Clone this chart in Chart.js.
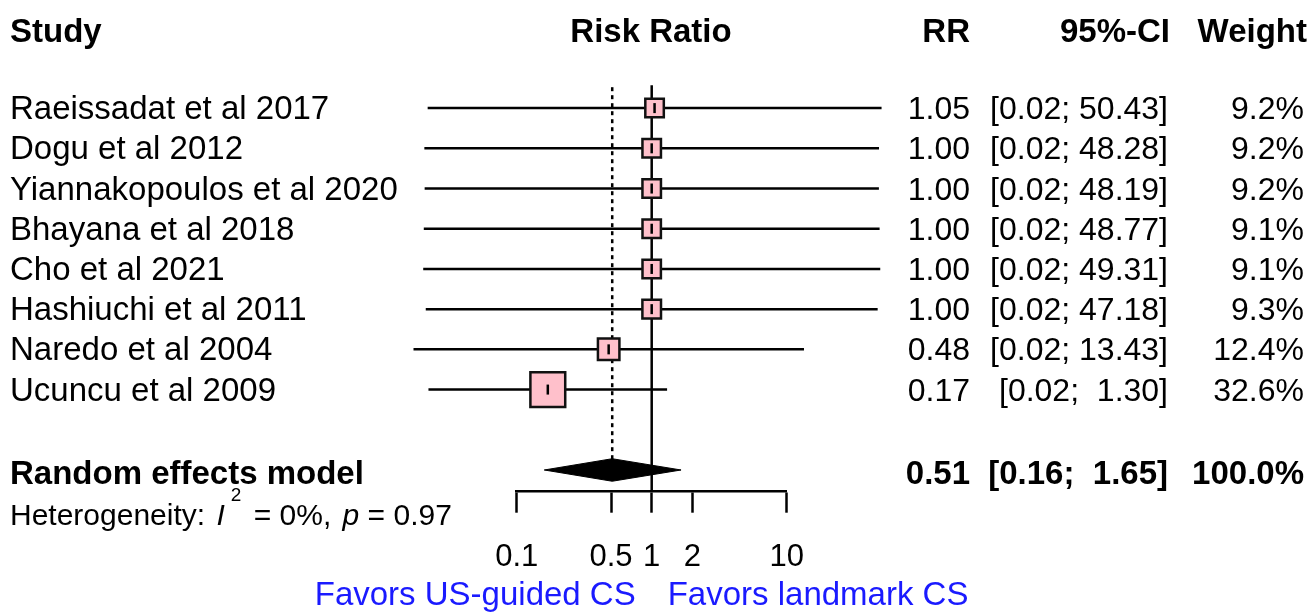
<!DOCTYPE html>
<html>
<head>
<meta charset="utf-8">
<script src="https://cdn.jsdelivr.net/npm/chart.js@4.4.0/dist/chart.umd.min.js"></script>
<style>
  body { margin: 0; background: #fff; }
  #wrap { width: 1309px; height: 612px; position: relative; }
</style>
</head>
<body>
<div id="wrap"><canvas id="forestChart"></canvas></div>
<script>
// datos del forest plot
const estudios = ['Raeissadat et al 2017', 'Dogu et al 2012', 'Yiannakopoulos et al 2020', 'Bhayana et al 2018',
  'Cho et al 2021', 'Hashiuchi et al 2011', 'Naredo et al 2004', 'Ucuncu et al 2009'];
const rr = [1.05, 1.00, 1.00, 1.00, 1.00, 1.00, 0.48, 0.17];
const ciLow = [0.0219, 0.0207, 0.0208, 0.0205, 0.0203, 0.0212, 0.0172, 0.0222];
const ciHigh = [50.43, 48.28, 48.19, 48.77, 49.31, 47.18, 13.43, 1.30];
const pesos = [9.2, 9.2, 9.2, 9.1, 9.1, 9.3, 12.4, 32.6];

const modelo = 'Random effects model';
const rrPooled = 0.51;
const ciPooled = [0.16, 1.65];
const pesoPooled = 100.0;
const i2 = 0;
const pHet = 0.97;

const tickValues = [0.1, 0.5, 1, 2, 10];
const favores = ['Favors US-guided CS', 'Favors landmark CS'];
const headers = ['Study', 'Risk Ratio', 'RR', '95%-CI', 'Weight'];

const filaModelo = estudios.length + 1;
const FONT = '"Liberation Sans", Arial, sans-serif';
const LW = 2.5;

function pad(s, n) {
  while (s.length < n) s = ' ' + s;
  return s;
}
function ciTexto(lo, hi) {
  return '[' + lo.toFixed(2) + '; ' + pad(hi.toFixed(2), 5) + ']';
}

// lineas de IC, una por estudio
const lineasIC = estudios.map((e, i) => ({
  type: 'scatter',
  showLine: true,
  data: [{ x: ciLow[i], y: i }, { x: ciHigh[i], y: i }],
  borderColor: '#000',
  borderWidth: LW,
  pointRadius: 0,
  clip: false,
  order: 3
}));

const cuadros = {
  type: 'scatter',
  data: rr.map((v, i) => ({ x: v, y: i })),
  pointStyle: 'rect',
  pointRadius: (c) => 6.1 * Math.sqrt(pesos[c.dataIndex]) / Math.SQRT2,
  backgroundColor: 'pink',
  borderColor: '#111',
  borderWidth: 2.5,
  clip: false,
  order: 1
};

const marcas = {
  type: 'scatter',
  data: rr.map((v, i) => ({ x: v, y: i })),
  pointStyle: 'line',
  rotation: 90,
  pointRadius: 5,
  borderColor: '#000',
  borderWidth: LW,
  clip: false,
  order: 0
};

const alto = 0.28;
const diamante = {
  type: 'scatter',
  showLine: true,
  data: [
    { x: ciPooled[0], y: filaModelo },
    { x: rrPooled, y: filaModelo - alto },
    { x: ciPooled[1], y: filaModelo },
    { x: rrPooled, y: filaModelo + alto },
    { x: ciPooled[0], y: filaModelo }
  ],
  borderColor: '#000',
  borderWidth: 1,
  backgroundColor: '#000',
  fill: 'shape',
  pointRadius: 0,
  clip: false,
  order: 1
};

const lineaNula = {
  type: 'scatter',
  showLine: true,
  data: [{ x: 1, y: -0.57 }, { x: 1, y: 9.54 }],
  borderColor: '#000',
  borderWidth: LW,
  pointRadius: 0,
  clip: false,
  order: 4
};

const lineaPooled = {
  type: 'scatter',
  showLine: true,
  data: [{ x: rrPooled, y: -0.52 }, { x: rrPooled, y: filaModelo }],
  borderColor: '#000',
  borderWidth: LW,
  borderDash: [4, 4],
  pointRadius: 0,
  clip: false,
  order: 4
};

function txt(ctx, s, x, y, align, font, color) {
  ctx.font = font;
  ctx.fillStyle = color || '#000';
  ctx.textAlign = align;
  ctx.textBaseline = 'alphabetic';
  ctx.fillText(s, x, y);
}

const textos = {
  id: 'textos',
  afterDraw(chart) {
    const ctx = chart.ctx;
    const y = chart.scales.y;
    const reg = '32px ' + FONT;
    const nom = '33px ' + FONT;
    const bold = 'bold 33px ' + FONT;
    ctx.save();
    // encabezados
    const hy = 41.5;
    txt(ctx, headers[0], 10, hy, 'left', bold);
    txt(ctx, headers[1], 651, hy, 'center', bold);
    txt(ctx, headers[2], 970, hy, 'right', bold);
    txt(ctx, headers[3], 1170, hy, 'right', bold);
    txt(ctx, headers[4], 1307, hy, 'right', bold);
    // filas
    estudios.forEach((e, i) => {
      const py = y.getPixelForValue(i) + 11;
      txt(ctx, e, 10, py, 'left', nom);
      txt(ctx, rr[i].toFixed(2), 970, py, 'right', reg);
      txt(ctx, ciTexto(ciLow[i], ciHigh[i]), 1168, py, 'right', reg);
      txt(ctx, pesos[i].toFixed(1) + '%', 1304, py, 'right', reg);
    });
    // modelo
    const my = y.getPixelForValue(filaModelo) + 14;
    txt(ctx, modelo, 10, my, 'left', bold);
    txt(ctx, rrPooled.toFixed(2), 970, my, 'right', bold);
    txt(ctx, ciTexto(ciPooled[0], ciPooled[1]), 1168, my, 'right', bold);
    txt(ctx, pesoPooled.toFixed(1) + '%', 1304, my, 'right', bold);
    // heterogeneidad
    const f = '30px ' + FONT, fi = 'italic 30px ' + FONT, fs = '19px ' + FONT;
    const partes = [
      ['Heterogeneity: ', f, 0, 3], ['I', fi, 0, 6], ['2', fs, -24, 4], [' = ' + i2 + '%, ', f, 0, 3],
      ['p', fi, 0, 0], [' = ' + pHet.toFixed(2), f, 0, 0]
    ];
    let hx = 10;
    partes.forEach(p => {
      ctx.font = p[1];
      txt(ctx, p[0], hx, 525 + p[2], 'left', p[1]);
      hx += ctx.measureText(p[0]).width + p[3];
    });
    // favores
    const fav = '33px ' + FONT;
    const x1 = chart.scales.x.getPixelForValue(1);
    txt(ctx, favores[0], x1 - 16, 605, 'right', fav, '#1a1aff');
    txt(ctx, favores[1], x1 + 16, 605, 'left', fav, '#1a1aff');
    ctx.restore();
  }
};

const ctx = document.getElementById('forestChart');
let grafico = new Chart(ctx, {
  data: {
    datasets: [marcas, cuadros, diamante, ...lineasIC, lineaNula, lineaPooled]
  },
  options: {
    responsive: true,
    maintainAspectRatio: false,
    animation: false,
    events: [],
    layout: {
      padding: { left: 516.7, right: 522.3, top: 88, bottom: 0 }
    },
    plugins: {
      legend: { display: false },
      tooltip: { enabled: false }
    },
    scales: {
      x: {
        type: 'logarithmic',
        position: 'bottom',
        min: 0.1,
        max: 10,
        afterBuildTicks: (scale) => {
          scale.ticks = tickValues.map(v => ({ value: v }));
        },
        afterFit: (scale) => {
          scale.height = 120.3;
        },
        grid: {
          drawOnChartArea: false,
          drawTicks: true,
          tickLength: 21,
          tickWidth: LW,
          tickColor: '#000',
          color: '#000'
        },
        border: { display: true, color: '#000', width: LW },
        ticks: {
          autoSkip: false,
          maxRotation: 0,
          minRotation: 0,
          padding: 26,
          color: '#000',
          font: { family: FONT, size: 31 },
          callback: (v) => String(v)
        }
      },
      y: {
        type: 'linear',
        display: false,
        reverse: true,
        min: -0.5,
        max: 9.54
      }
    }
  },
  plugins: [textos]
});
</script>
</body>
</html>
